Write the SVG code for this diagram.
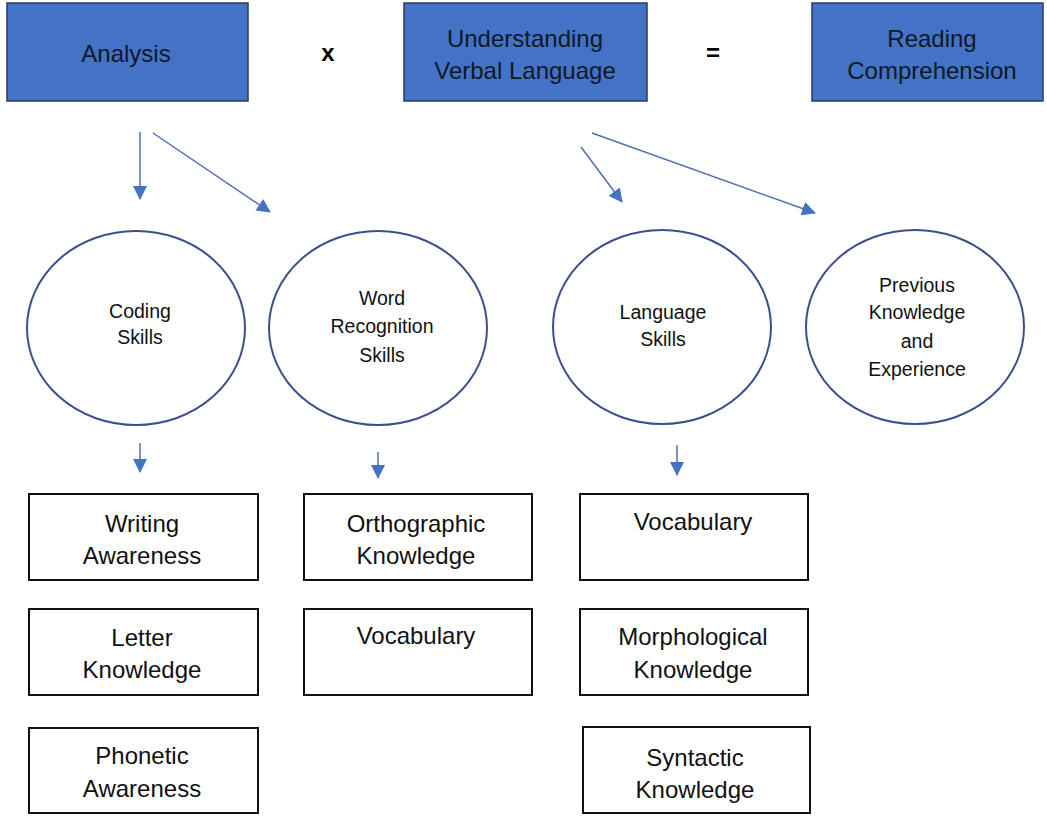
<svg xmlns="http://www.w3.org/2000/svg" width="1047" height="817" viewBox="0 0 1047 817">
<defs>
<marker id="ah" markerUnits="userSpaceOnUse" markerWidth="14" markerHeight="14" viewBox="0 0 14 14" refX="13" refY="7" orient="auto">
<path d="M0,0 L14,7 L0,14 Z" fill="#4472C4"/>
</marker>
<style>
.top{fill:#4472C4;stroke:#2B3A5A;stroke-width:1.5}
.tt{font-family:"Liberation Sans",Arial,sans-serif;font-size:24px;fill:#101828;text-anchor:middle}
.op{font-family:"Liberation Sans",Arial,sans-serif;font-size:24px;font-weight:bold;fill:#000;text-anchor:middle}
.ell{fill:#fff;stroke:#3B4F8C;stroke-width:2}
.et{font-family:"Liberation Sans",Arial,sans-serif;font-size:19.5px;fill:#111;text-anchor:middle}
.box{fill:#fff;stroke:#111;stroke-width:2}
.bt{font-family:"Liberation Sans",Arial,sans-serif;font-size:24px;fill:#111;text-anchor:middle}
.con{stroke:#4F6FB0;stroke-width:1.5;fill:none;marker-end:url(#ah)}
</style>
</defs>
<rect width="1047" height="817" fill="#fff"/>
<g id="analysis"><rect class="top" x="7" y="3" width="241" height="98"/><text class="tt" x="126" y="62">Analysis</text></g>
<text class="op" x="328" y="61">x</text>
<g id="understanding"><rect class="top" x="404" y="3" width="243" height="98"/><text class="tt" x="525" y="47">Understanding</text><text class="tt" x="525" y="79">Verbal Language</text></g>
<text class="op" x="713" y="61">=</text>
<g id="reading"><rect class="top" x="812" y="3" width="231" height="98"/><text class="tt" x="932" y="47">Reading</text><text class="tt" x="932" y="79">Comprehension</text></g>
<g id="connectors">
<line class="con" x1="140" y1="132" x2="140" y2="199"/>
<line class="con" x1="153" y1="133" x2="270" y2="212"/>
<line class="con" x1="581" y1="147" x2="622" y2="202"/>
<line class="con" x1="592" y1="133" x2="815" y2="213"/>
<line class="con" x1="140" y1="443" x2="140" y2="472"/>
<line class="con" x1="378" y1="452" x2="378" y2="478"/>
<line class="con" x1="677" y1="445" x2="677" y2="475"/>
</g>
<g id="coding"><ellipse class="ell" cx="136" cy="328" rx="109" ry="97"/><text class="et" x="140" y="318">Coding</text><text class="et" x="140" y="344">Skills</text></g>
<g id="word"><ellipse class="ell" cx="378" cy="328" rx="109" ry="97"/><text class="et" x="382" y="305">Word</text><text class="et" x="382" y="333">Recognition</text><text class="et" x="382" y="362">Skills</text></g>
<g id="language"><ellipse class="ell" cx="662" cy="327" rx="109" ry="97"/><text class="et" x="663" y="319">Language</text><text class="et" x="663" y="346">Skills</text></g>
<g id="previous"><ellipse class="ell" cx="915" cy="327" rx="109" ry="97"/><text class="et" x="917" y="292">Previous</text><text class="et" x="917" y="319">Knowledge</text><text class="et" x="917" y="348">and</text><text class="et" x="917" y="376">Experience</text></g>
<g id="writing"><rect class="box" x="29" y="494" width="229" height="86"/><text class="bt" x="142" y="532">Writing</text><text class="bt" x="142" y="564">Awareness</text></g>
<g id="letter"><rect class="box" x="29" y="609" width="229" height="86"/><text class="bt" x="142" y="646">Letter</text><text class="bt" x="142" y="678">Knowledge</text></g>
<g id="phonetic"><rect class="box" x="29" y="728" width="229" height="85"/><text class="bt" x="142" y="764">Phonetic</text><text class="bt" x="142" y="797">Awareness</text></g>
<g id="orthographic"><rect class="box" x="304" y="494" width="228" height="86"/><text class="bt" x="416" y="532">Orthographic</text><text class="bt" x="416" y="564">Knowledge</text></g>
<g id="vocab1"><rect class="box" x="304" y="609" width="228" height="86"/><text class="bt" x="416" y="644">Vocabulary</text></g>
<g id="vocab2"><rect class="box" x="580" y="494" width="228" height="86"/><text class="bt" x="693" y="530">Vocabulary</text></g>
<g id="morph"><rect class="box" x="580" y="609" width="228" height="86"/><text class="bt" x="693" y="645">Morphological</text><text class="bt" x="693" y="678">Knowledge</text></g>
<g id="syntactic"><rect class="box" x="583" y="727" width="227" height="86"/><text class="bt" x="695" y="766">Syntactic</text><text class="bt" x="695" y="798">Knowledge</text></g>
</svg>
